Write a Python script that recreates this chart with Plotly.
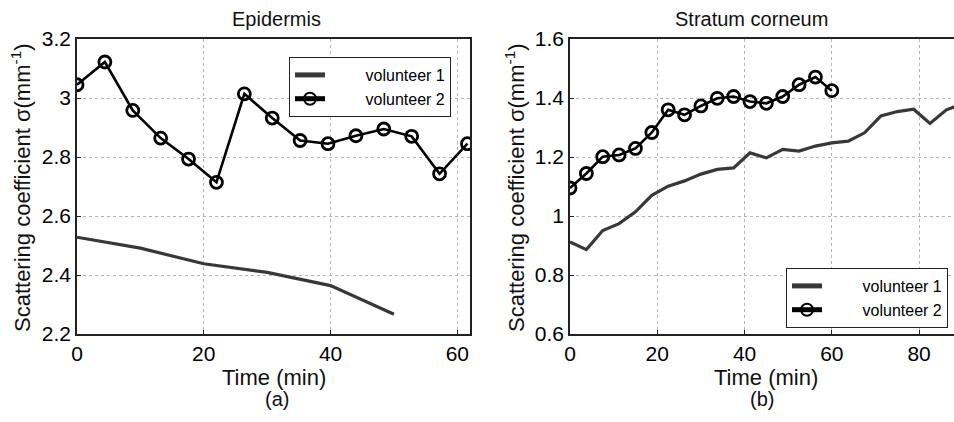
import plotly.graph_objects as go

# ---- data ----
epi_t_v1 = [0, 10, 20, 30, 40, 50]
epi_v1 = [2.528, 2.491, 2.438, 2.409, 2.364, 2.267]
epi_t_v2 = [0, 4.4, 8.8, 13.2, 17.6, 22.0, 26.4, 30.8, 35.2, 39.6, 44.0, 48.4, 52.8, 57.2, 61.6]
epi_v2 = [3.045, 3.122, 2.958, 2.864, 2.793, 2.714, 3.014, 2.932, 2.856, 2.845,
          2.872, 2.895, 2.870, 2.743, 2.845]

sc_t_v1 = [0, 3.75, 7.5, 11.25, 15, 18.75, 22.5, 26.25, 30, 33.75, 37.5, 41.25, 45,
           48.75, 52.5, 56.25, 60, 63.75, 67.5, 71.25, 75, 78.75, 82.5, 86.25, 90]
sc_v1 = [0.912, 0.886, 0.951, 0.974, 1.014, 1.070, 1.101, 1.119, 1.142, 1.158, 1.163,
         1.214, 1.197, 1.226, 1.220, 1.237, 1.248, 1.254, 1.282, 1.339, 1.354, 1.362,
         1.314, 1.360, 1.380]
sc_t_v2 = [0, 3.75, 7.5, 11.25, 15, 18.75, 22.5, 26.25, 30, 33.75, 37.5, 41.25, 45,
           48.75, 52.5, 56.25, 60]
sc_v2 = [1.095, 1.144, 1.201, 1.207, 1.229, 1.283, 1.360, 1.343, 1.373, 1.399, 1.405,
         1.388, 1.382, 1.405, 1.445, 1.471, 1.425]

series_names = ["volunteer 1", "volunteer 2"]
panel_titles = ["Epidermis", "Stratum corneum"]
panel_labels = ["(a)", "(b)"]
x_title = "Time (min)"
y_title = "Scattering coefficient σ(mm<sup>-1</sup>)"

FONT = "Liberation Sans, Arial, sans-serif"
W, H = 954, 422
pad = "\u00a0" * 8

fig = go.Figure()
v1_line = dict(color="#383838", width=3.2)
v2_line = dict(color="#000000", width=2.6)
v2_marker = dict(symbol="circle-open", size=12, color="#000000", line=dict(width=2.8))

fig.add_trace(go.Scatter(x=epi_t_v1, y=epi_v1, mode="lines", line=v1_line,
                         name=pad + series_names[0], xaxis="x", yaxis="y", legend="legend"))
fig.add_trace(go.Scatter(x=epi_t_v2, y=epi_v2, mode="lines+markers", line=v2_line,
                         marker=v2_marker, name=pad + series_names[1],
                         xaxis="x", yaxis="y", legend="legend"))
fig.add_trace(go.Scatter(x=sc_t_v1, y=sc_v1, mode="lines", line=v1_line,
                         name=pad + series_names[0], xaxis="x2", yaxis="y2", legend="legend2"))
fig.add_trace(go.Scatter(x=sc_t_v2, y=sc_v2, mode="lines+markers", line=v2_line,
                         marker=v2_marker, name=pad + series_names[1],
                         xaxis="x2", yaxis="y2", legend="legend2"))

ydom = [1 - 334 / H, 1 - 39 / H]
axis_common = dict(
    showline=True, linecolor="#222", linewidth=1.5,
    showgrid=True, gridcolor="#b4b4b4", griddash="dot", gridwidth=1,
    zeroline=False, ticks="inside", ticklen=4, tickcolor="#222",
    tickfont=dict(family=FONT, size=21, color="#000"),
)

leg_common = dict(xanchor="left", yanchor="top",
                  bgcolor="white", bordercolor="#222", borderwidth=1,
                  font=dict(family=FONT, size=16, color="#000"),
                  tracegroupgap=0, itemsizing="constant")

fig.update_layout(
    width=W, height=H,
    margin=dict(l=0, r=0, t=0, b=0, autoexpand=False),
    paper_bgcolor="white", plot_bgcolor="white",
    font=dict(family=FONT, color="#111"),
    xaxis=dict(domain=[77 / W, 470 / W], range=[0, 62], tickvals=[0, 20, 40, 60],
               mirror=True, anchor="y", **axis_common),
    yaxis=dict(domain=ydom, range=[2.2, 3.2], tickvals=[2.2, 2.4, 2.6, 2.8, 3.0, 3.2],
               ticktext=["2.2", "2.4", "2.6", "2.8", "3", "3.2"],
               mirror=True, anchor="x", **axis_common),
    xaxis2=dict(domain=[570 / W, 1.0], range=[0, 88], tickvals=[0, 20, 40, 60, 80],
                mirror=True, anchor="y2", **axis_common),
    yaxis2=dict(domain=ydom, range=[0.6, 1.6], tickvals=[0.6, 0.8, 1.0, 1.2, 1.4, 1.6],
                ticktext=["0.6", "0.8", "1", "1.2", "1.4", "1.6"],
                mirror=False, anchor="x2", **axis_common),
    legend=dict(x=289 / W, y=1 - 57 / H, **leg_common),
    legend2=dict(x=786 / W, y=1 - 268 / H, **leg_common),
)

ann = []
def px_ann(text, x, y, size, angle=0):
    ann.append(dict(text=text, x=x / W, y=1 - y / H, xref="paper", yref="paper",
                    xanchor="center", yanchor="middle", showarrow=False, textangle=angle,
                    font=dict(family=FONT, size=size, color="#111")))

px_ann(panel_titles[0], 276, 19, 20)
px_ann(panel_titles[1], 751, 19, 20)
px_ann(x_title, 274, 377, 22)
px_ann(x_title, 766, 377, 22)
px_ann(panel_labels[0], 277, 399, 20)
px_ann(panel_labels[1], 762, 399, 20)
px_ann(y_title, 21, 188, 22, -90)
px_ann(y_title, 515, 188, 22, -90)
fig.update_layout(annotations=ann)

fig.write_html("out.html")
